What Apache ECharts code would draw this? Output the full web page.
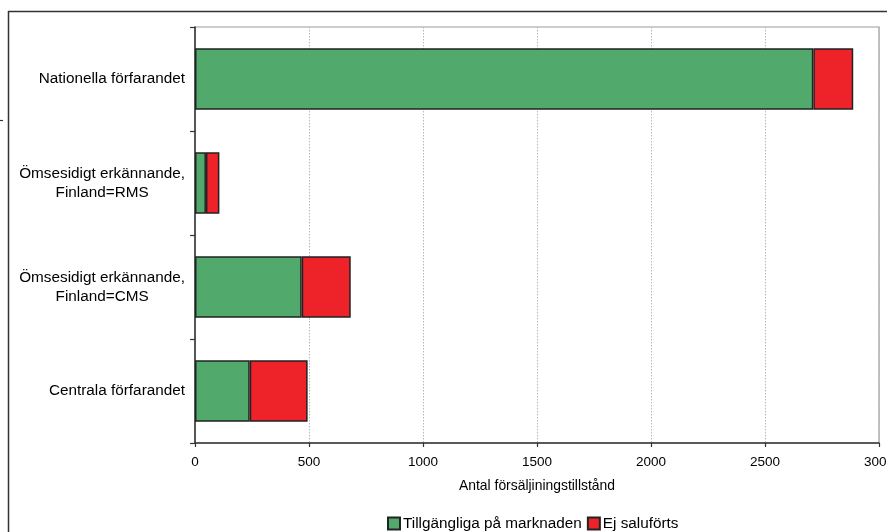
<!DOCTYPE html>
<html>
<head>
<meta charset="utf-8">
<script src="https://cdn.jsdelivr.net/npm/echarts@6/dist/echarts.min.js"></script>
<style>
  html, body { margin: 0; padding: 0; background: #fff; }
  #chart { width: 887px; height: 532px; }
</style>
</head>
<body>
<div id="chart"></div>
<script>
// Godkännandeförfaranden, uppifrån och ned
const categories = [
  'Nationella förfarandet',
  'Ömsesidigt erkännande,\nFinland=RMS',
  'Ömsesidigt erkännande,\nFinland=CMS',
  'Centrala förfarandet'
];
const seriesNames = ['Tillgängliga på marknaden', 'Ej saluförts'];
const availableValues = [2712, 48, 468, 240];
const notMarketedValues = [175, 59, 215, 254];
const xTicks = [0, 500, 1000, 1500, 2000, 2500, 3000];
const axisTitle = 'Antal försäljiningstillstånd';

const font = '"Liberation Sans", Arial, sans-serif';
const chart = echarts.init(document.getElementById('chart'), null, { renderer: 'canvas' });

// Flerradiga etiketter centreras radvis, blocket högerställs mot axeln
function categoryLabel(value) {
  return value.split('\n').map(line => '{c|' + line + '}').join('\n');
}

const barBorder = { borderColor: '#222', borderWidth: 1.5 };

chart.setOption({
  animation: false,
  backgroundColor: '#fff',
  textStyle: { fontFamily: font, color: '#000' },
  grid: {
    left: 195, top: 27, right: 8, bottom: 89,
    outerBoundsMode: 'none',
    containLabel: false,
    show: true, borderColor: '#9a9a9a', borderWidth: 1.2,
    backgroundColor: 'transparent'
  },
  legend: {
    bottom: -4,
    left: 382,
    itemWidth: 12,
    itemHeight: 12,
    itemGap: 5,
    icon: 'rect',
    textStyle: { fontFamily: font, fontSize: 15.3, color: '#000', padding: [0, 0, 0, -2] },
    data: seriesNames
  },
  xAxis: {
    type: 'value',
    min: xTicks[0],
    max: xTicks[xTicks.length - 1],
    interval: xTicks[1] - xTicks[0],
    name: axisTitle,
    nameLocation: 'middle',
    nameGap: 36,
    nameTextStyle: { fontFamily: font, fontSize: 13.9, color: '#000' },
    axisLine: { show: true, lineStyle: { color: '#333', width: 1.5 } },
    axisTick: { show: true, length: 4, lineStyle: { color: '#333', width: 1.2 } },
    axisLabel: {
      fontFamily: font, fontSize: 13.5, color: '#000', margin: 12,
      formatter: v => String(v)
    },
    splitLine: { show: true, lineStyle: { color: '#b8b8b8', type: [1.5, 1.5], width: 1 } }
  },
  yAxis: {
    type: 'category',
    data: categories,
    inverse: true,
    axisLine: { show: true, lineStyle: { color: '#333', width: 1.5 } },
    axisTick: { show: true, length: 5, lineStyle: { color: '#333', width: 1.2 } },
    axisLabel: {
      fontFamily: font, fontSize: 15.3, color: '#000', margin: 10,
      lineHeight: 19,
      formatter: categoryLabel,
      rich: { c: { align: 'center', fontFamily: font, fontSize: 15.3, color: '#000', lineHeight: 19 } }
    },
    splitLine: { show: false }
  },
  series: [
    {
      name: seriesNames[0],
      type: 'bar',
      stack: 'total',
      barCategoryGap: '41%',
      data: availableValues,
      itemStyle: Object.assign({ color: '#52a96c' }, barBorder)
    },
    {
      name: seriesNames[1],
      type: 'bar',
      stack: 'total',
      barCategoryGap: '41%',
      data: notMarketedValues,
      itemStyle: Object.assign({ color: '#ee2229' }, barBorder)
    }
  ],
  graphic: [
    // yttre ram: vänster- och överkant
    { type: 'line', shape: { x1: 8.5, y1: 11, x2: 8.5, y2: 532 }, style: { stroke: '#333', lineWidth: 1.5 } },
    { type: 'line', shape: { x1: 8, y1: 11.5, x2: 887, y2: 11.5 }, style: { stroke: '#333', lineWidth: 1.5 } },
    { type: 'line', shape: { x1: 0, y1: 120.5, x2: 3, y2: 120.5 }, style: { stroke: '#333', lineWidth: 1.2 } }
  ]
});
</script>
</body>
</html>
